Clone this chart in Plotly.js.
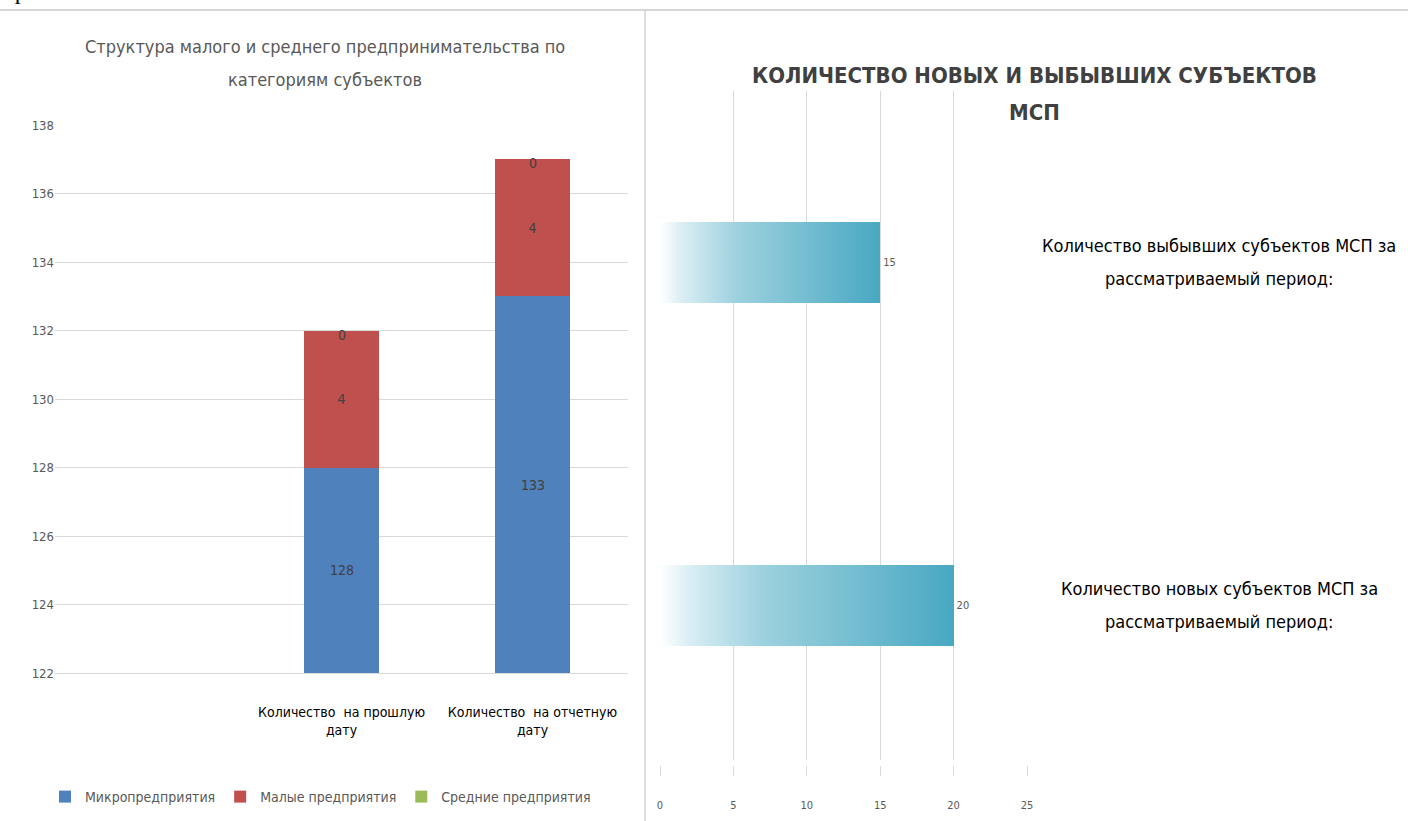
<!DOCTYPE html>
<html>
<head>
<meta charset="utf-8">
<script src="https://cdn.plot.ly/plotly-3.0.1.min.js"></script>
<style>
  body { margin: 0; background: #fff; overflow: hidden; }
  #chart { width: 1408px; height: 821px; }
</style>
</head>
<body>
<div id="chart"></div>
<script>
// --- left chart: structure by category of subject
const categories = [' ', 'Количество  на прошлую<br>дату', 'Количество  на отчетную<br>дату'];
const barCats = categories.slice(1);
const micro = [128, 133];
const small = [4, 4];
const medium = [0, 0];
const seriesNames = ['Микропредприятия', 'Малые предприятия', 'Средние предприятия'];
const leftTitle = ['Структура малого и среднего предпринимательства по', 'категориям субъектов'];
const yRange = [122, 138];

// --- right chart: new and closed subjects
const periodCats = ['new', 'closed'];
const periodValues = [20, 15];
const periodLabels = [
  ['Количество новых субъектов МСП за', 'рассматриваемый период:'],
  ['Количество выбывших субъектов МСП за', 'рассматриваемый период:']
];
const rightTitle = ['КОЛИЧЕСТВО НОВЫХ И ВЫБЫВШИХ СУБЪЕКТОВ', 'МСП'];

const NARROW = "'DejaVu Sans Condensed', 'Liberation Sans Narrow', sans-serif";
const W = 1408, H = 821;
const px = v => v / W;
const py = v => 1 - v / H;

const colors = ['#4F81BD', '#C0504D', '#9BBB59'];
const series = [micro, small, medium];
const labelFont = { family: NARROW, size: 14, color: '#404040' };

let data = series.map(function (vals, i) {
  return {
    type: 'bar', x: barCats, y: vals, name: seriesNames[i],
    xaxis: 'x', yaxis: 'y', width: 0.39,
    marker: { color: colors[i] },
    text: vals.map(String),
    // only the red segment is fully visible, the others get annotations below
    textposition: i == 1 ? 'inside' : 'none',
    insidetextanchor: 'middle',
    constraintext: 'none',
    textfont: labelFont,
    hoverinfo: 'skip'
  };
});

data.push({
  type: 'bar', orientation: 'h', y: periodCats, x: periodValues,
  xaxis: 'x2', yaxis: 'y2', width: 0.236, showlegend: false,
  marker: { color: '#4BACC6' },
  text: periodValues.map(String), textposition: 'outside',
  textfont: { family: NARROW, size: 11, color: '#595959' },
  cliponaxis: false, hoverinfo: 'skip'
});

let annotations = [];
// micro labels: middle of the visible part of the blue bar
barCats.forEach(function (c, i) {
  annotations.push({ xref: 'x', yref: 'y', x: c, y: (yRange[0] + micro[i]) / 2,
    text: String(micro[i]), showarrow: false, font: labelFont });
  const top = micro[i] + small[i] + medium[i];
  annotations.push({ xref: 'x', yref: 'y', x: c, y: top, yshift: -4,
    text: String(medium[i]), showarrow: false, font: labelFont });
});
leftTitle.forEach(function (t, i) {
  annotations.push({ xref: 'paper', yref: 'paper', x: px(325), y: py(47 + i * 33),
    xanchor: 'center', yanchor: 'middle',
    text: t, showarrow: false, font: { family: NARROW, size: 18, color: '#595959' } });
});
rightTitle.forEach(function (t, i) {
  annotations.push({ xref: 'paper', yref: 'paper', x: px(1034), y: py(75 + i * 38),
    xanchor: 'center', yanchor: 'middle',
    text: '<b>' + t + '</b>', showarrow: false, font: { family: NARROW, size: 22, color: '#404040' } });
});
periodLabels.forEach(function (lines, k) {
  lines.forEach(function (t, i) {
    annotations.push({ xref: 'paper', yref: 'y2', x: px(1219), y: periodCats[k],
      xanchor: 'center', yanchor: 'middle',
      yshift: 17 - i * 33, text: t, showarrow: false,
      font: { family: NARROW, size: 18, color: '#000000' } });
  });
});
// cut-off text from the page above
annotations.push({ xref: 'paper', yref: 'paper', x: 0, y: py(6), xanchor: 'left', yanchor: 'bottom',
  text: 'проектов.', showarrow: false, font: { family: 'Liberation Serif, serif', size: 24, color: '#000' } });

const layout = {
  width: W, height: H,
  margin: { l: 0, r: 0, t: 0, b: 0 },
  paper_bgcolor: '#ffffff', plot_bgcolor: 'rgba(0,0,0,0)',
  barmode: 'stack',
  showlegend: true,
  legend: {
    orientation: 'h', x: px(45), y: py(797), xanchor: 'left', yanchor: 'middle',
    traceorder: 'normal', bgcolor: 'rgba(0,0,0,0)',
    font: { family: NARROW, size: 14, color: '#595959' }
  },
  xaxis: {
    domain: [px(55), px(628)], anchor: 'y',
    type: 'category', categoryorder: 'array', categoryarray: categories,
    range: [-0.5, 2.5], showgrid: false, zeroline: false,
    showline: true, linecolor: '#D9D9D9', ticks: 'outside', ticklen: 26,
    tickcolor: 'rgba(0,0,0,0)', tickangle: 0,
    tickfont: { family: NARROW, size: 14, color: '#000000' }
  },
  yaxis: {
    domain: [py(673), py(125)], anchor: 'x',
    range: yRange, dtick: 2, tick0: yRange[0],
    showgrid: true, gridcolor: '#D9D9D9', zeroline: false, ticks: '',
    tickfont: { family: NARROW, size: 13, color: '#595959' }
  },
  xaxis2: {
    domain: [px(660), px(1027)], anchor: 'free', position: py(765),
    range: [0, 25], dtick: 5, tick0: 0,
    showgrid: true, gridcolor: '#D9D9D9', zeroline: false,
    ticks: 'outside', ticklen: 10, tickcolor: '#D9D9D9', ticklabelstandoff: 20,
    tickfont: { family: NARROW, size: 11, color: '#595959' }
  },
  yaxis2: {
    domain: [py(760), py(91)], anchor: 'x2',
    type: 'category', range: [-0.45, 1.5],
    showticklabels: false, showgrid: false, zeroline: false, ticks: ''
  },
  shapes: [
    { type: 'line', xref: 'paper', yref: 'paper', x0: 0, x1: 1, y0: py(10), y1: py(10),
      line: { color: '#C8C8C8', width: 1.5 } },
    { type: 'line', xref: 'paper', yref: 'paper', x0: px(645), x1: px(645), y0: 0, y1: py(10),
      line: { color: '#D4D4D4', width: 1.5 } }
  ],
  annotations: annotations
};

Plotly.newPlot('chart', data, layout, { displayModeBar: false, staticPlot: true }).then(function (gd) {
  // fade the horizontal bars from white to teal
  const ns = 'http://www.w3.org/2000/svg';
  const defs = gd.querySelector('.main-svg defs');
  const grad = document.createElementNS(ns, 'linearGradient');
  grad.setAttribute('id', 'tealFade');
  grad.setAttribute('x1', '0'); grad.setAttribute('y1', '0');
  grad.setAttribute('x2', '1'); grad.setAttribute('y2', '0');
  [['0', '#ffffff'], ['0.1', '#d9eef4'], ['0.35', '#9dd1de'], ['1', '#48a8c2']].forEach(function (s) {
    const st = document.createElementNS(ns, 'stop');
    st.setAttribute('offset', s[0]);
    st.setAttribute('stop-color', s[1]);
    grad.appendChild(st);
  });
  defs.appendChild(grad);
  const traces = gd.querySelectorAll('.barlayer .trace');
  const last = traces[traces.length - 1];
  last.querySelectorAll('.point path').forEach(function (p) {
    p.style.fill = 'url(#tealFade)';
  });
});
</script>
</body>
</html>
